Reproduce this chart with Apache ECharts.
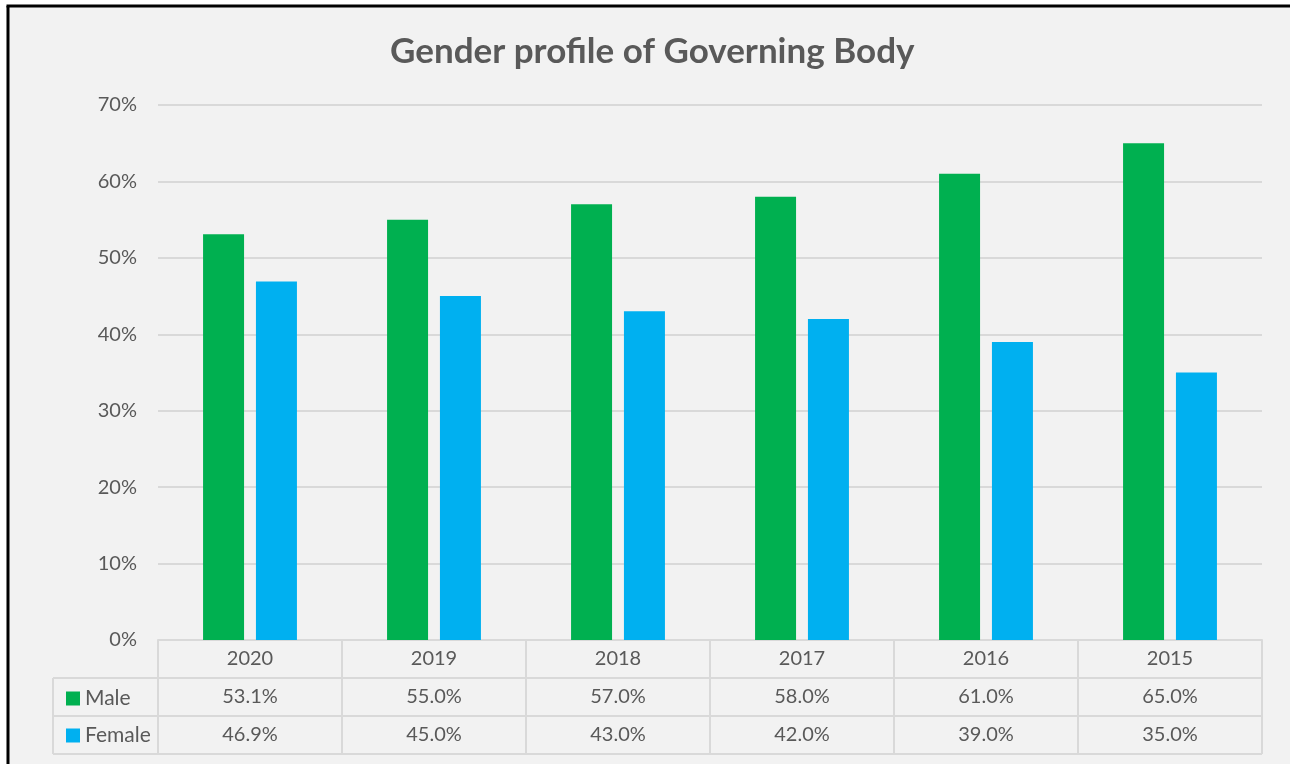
<!DOCTYPE html>
<html>
<head>
<meta charset="utf-8">
<script src="https://cdn.jsdelivr.net/npm/echarts@6/dist/echarts.min.js"></script>
<style>
  html, body { margin: 0; padding: 0; background: #fff; }
  #main { width: 1290px; height: 764px; }
</style>
</head>
<body>
<div id="main"></div>
<script>
var years = ['2020', '2019', '2018', '2017', '2016', '2015'];
var male = [53.1, 55.0, 57.0, 58.0, 61.0, 65.0];
var female = [46.9, 45.0, 43.0, 42.0, 39.0, 35.0];
var yTicks = [0, 10, 20, 30, 40, 50, 60, 70];

var font = 'Lato, "Noto Sans", sans-serif';
var txt = '#595959';
var lineCol = '#D9D9D9';
var rowH = 38;

var chart = echarts.init(document.getElementById('main'));

function pct(v) { return v.toFixed(1) + '%'; }

var option = {
    backgroundColor: '#F2F2F2',
    animation: false,
    title: {
        text: 'Gender profile of Governing Body',
        left: 385,
        top: 29,
        textStyle: { fontFamily: font, fontSize: 35, fontWeight: 'bold', color: txt }
    },
    legend: {
        orient: 'vertical',
        left: 61,
        top: 683,
        itemWidth: 14,
        itemHeight: 14,
        itemGap: 16,
        icon: 'rect',
        textStyle: { fontFamily: font, fontSize: 21, color: txt, height: 20 },
        data: ['Male', 'Female']
    },
    grid: { left: 158, right: 28, top: 105, bottom: 124 },
    xAxis: {
        type: 'category',
        data: years,
        axisLine: { lineStyle: { color: lineCol, width: 2 } },
        axisTick: { show: true, length: rowH * 3, lineStyle: { color: lineCol, width: 2 } },
        axisLabel: {
            margin: 0,
            interval: 0,
            fontFamily: font,
            fontSize: 20,
            color: txt,
            lineHeight: rowH,
            formatter: function (v, i) {
                return v + '\n' + pct(male[i]) + '\n' + pct(female[i]);
            }
        }
    },
    yAxis: {
        type: 'value',
        min: yTicks[0],
        max: yTicks[yTicks.length - 1],
        interval: 10,
        axisLine: { show: false },
        axisTick: { show: false },
        axisLabel: { margin: 21, fontFamily: font, fontSize: 20, color: txt, formatter: '{value}%' },
        splitLine: { lineStyle: { color: lineCol, width: 2 } }
    },
    series: [
        { name: 'Male', type: 'bar', data: male, barWidth: 41, barGap: '29%', itemStyle: { color: '#00B050' } },
        { name: 'Female', type: 'bar', data: female, barWidth: 41, itemStyle: { color: '#00B0F0' } }
    ]
};
chart.setOption(option);

// table lines + frame
var y0 = chart.convertToPixel({ yAxisIndex: 0 }, 0);
var rect = chart.getModel().getComponent('grid').coordinateSystem.getRect();
var xl = 53, xr = rect.x + rect.width;
var els = [];
for (var r = 1; r <= 3; r++) {
    var yy = y0 + r * rowH;
    els.push({ type: 'line', shape: { x1: xl, y1: yy, x2: xr, y2: yy }, style: { stroke: lineCol, lineWidth: 2 } });
}
els.push({ type: 'line', shape: { x1: xl, y1: y0 + rowH, x2: xl, y2: y0 + rowH * 3 }, style: { stroke: lineCol, lineWidth: 2 } });
// outer frame (only top/left visible in crop)
els.push({ type: 'rect', shape: { x: 0, y: 0, width: 1290, height: 5 }, style: { fill: '#fff' } });
els.push({ type: 'rect', shape: { x: 0, y: 0, width: 6.5, height: 764 }, style: { fill: '#fff' } });
els.push({ type: 'line', shape: { x1: 6.5, y1: 6, x2: 1290, y2: 6 }, style: { stroke: '#000', lineWidth: 3 } });
els.push({ type: 'line', shape: { x1: 8, y1: 6, x2: 8, y2: 764 }, style: { stroke: '#000', lineWidth: 3 } });
chart.setOption({ graphic: { elements: els } });
</script>
</body>
</html>
